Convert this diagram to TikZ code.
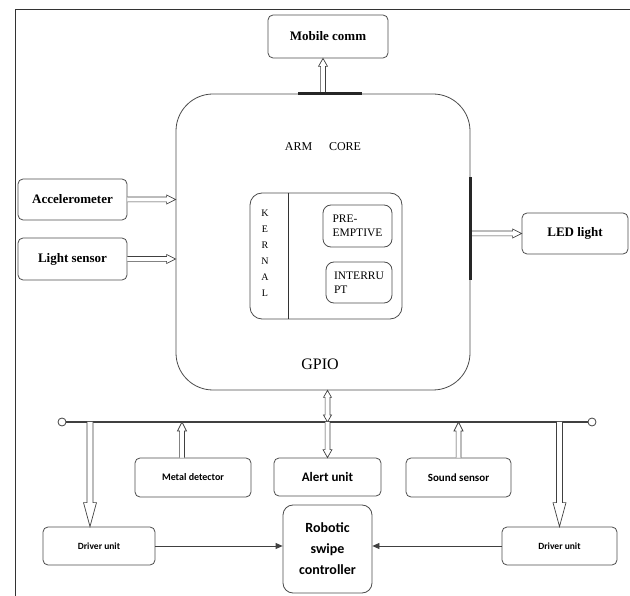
\documentclass[tikz,border=0pt]{standalone}
\usepackage{fontspec}
\setmainfont{Liberation Serif}
\newfontfamily\calfont{Carlito}
\usetikzlibrary{arrows.meta,calc}
\tikzset{
  box/.style={draw=black!70, line width=0.8pt, rounded corners=5pt, align=center, inner sep=1pt},
  hollow/.style={draw=black!75, line width=0.7pt, fill=white, line join=miter},
  sarrow/.style={draw=black!75, line width=0.8pt, -{Triangle[length=7pt,width=6pt]}},
  thick seg/.style={draw=black!85, line width=2.4pt},
  tb/.style={font=\fontsize{13}{15}\selectfont\bfseries},
  cb/.style={font=\calfont\bfseries\fontsize{#1}{#1}\selectfont},
}
\newlength\shaft
\setlength\shaft{2.4pt}
% hollow double-line arrow: from, to, head length, head half width
\newcommand\hollowarr[4]{%
  \coordinate (hA) at (#1); \coordinate (hB) at (#2);
  \coordinate (hH) at ($(hB)!#3!(hA)$);
  \draw[hollow] ($(hA)!\shaft!90:(hB)$) -- ($(hH)!\shaft!-90:(hA)$) -- ($(hH)!#4!-90:(hA)$) -- (hB)
     -- ($(hH)!#4!90:(hA)$) -- ($(hH)!\shaft!90:(hA)$) -- ($(hA)!\shaft!-90:(hB)$);
}
% hollow double-headed arrow
\newcommand\hollowdarr[4]{%
  \coordinate (hA) at (#1); \coordinate (hB) at (#2);
  \coordinate (hH) at ($(hB)!#3!(hA)$);
  \coordinate (hG) at ($(hA)!#3!(hB)$);
  \draw[hollow] (hA) -- ($(hG)!#4!-90:(hB)$) -- ($(hG)!\shaft!-90:(hB)$) -- ($(hH)!\shaft!90:(hA)$)
     -- ($(hH)!#4!90:(hA)$) -- (hB) -- ($(hH)!#4!-90:(hA)$) -- ($(hH)!\shaft!-90:(hA)$)
     -- ($(hG)!\shaft!90:(hB)$) -- ($(hG)!#4!90:(hB)$) -- cycle;
}
\begin{document}
\begin{tikzpicture}[x=1pt,y=-1pt]
\useasboundingbox (0,0) rectangle (630,596);
% frame
\draw[black!80, line width=1pt] (630,10) -- (15,10) -- (15,596);
% main
\node[box, rounded corners=37pt, minimum width=294pt, minimum height=296pt] (main) at (323,242) {};
\node[font=\fontsize{12}{14}\selectfont] (arm) at (323,147) {ARM\hspace{1.4em}CORE};
\node[font=\fontsize{16}{18}\selectfont] (gpio) at (320,364) {GPIO};
% kernel
\node[box, rounded corners=12pt, minimum width=152pt, minimum height=126pt] (kern) at (326,256) {};
\draw[black!80, line width=0.8pt] ($(kern.north west)+(39,0)$) -- ($(kern.south west)+(39,0)$);
\node[align=center, inner sep=0pt, font=\fontsize{10}{16}\selectfont] (kl) at (265,253) {K\\E\\R\\N\\A\\L};
\node[box, rounded corners=8pt, minimum width=69pt, minimum height=42pt, align=left, font=\fontsize{11.5}{14}\selectfont] (pre) at (357.5,226) {PRE-\\EMPTIVE};
\node[box, rounded corners=8pt, minimum width=66pt, minimum height=41pt, align=left, font=\fontsize{11.5}{14}\selectfont] (int) at (359,282.5) {INTERRU\\PT\hspace{2.6em}};
% top
\node[box, tb, minimum width=120pt, minimum height=43pt] (mob) at (328,36.5) {Mobile comm};
\hollowarr{main.north}{main.north |- mob.south}{8pt}{4.5pt}
% left inputs
\node[box, tb, minimum width=109pt, minimum height=41pt] (acc) at (72.5,199.5) {Accelerometer};
\node[box, tb, minimum width=109pt, minimum height=42pt] (light) at (72.5,259) {Light sensor};
\hollowarr{acc.east}{acc.east -| main.west}{9pt}{4.5pt}
\hollowarr{light.east}{light.east -| main.west}{9pt}{4.5pt}
% LED
\node[box, tb, minimum width=106pt, minimum height=41pt] (led) at (575,233.5) {LED light};
\hollowarr{led.west -| main.east}{led.west}{9pt}{4.5pt}
\draw[thick seg] ($(main.north)+(-25,0)$) -- ($(main.north)+(39,0)$);
\draw[thick seg] ($(main.east)+(0,-65)$) -- ($(main.east)+(0,38)$);
% bus
\node[draw=black!75, line width=0.8pt, circle, minimum size=8pt, inner sep=0pt] (bl) at (62,422) {};
\node[draw=black!75, line width=0.8pt, circle, minimum size=8pt, inner sep=0pt] (br) at (592,422) {};
\draw[black!75, line width=1.2pt] (bl.east) -- (br.west);
% bottom boxes
\node[box, cb=10, minimum width=116pt, minimum height=39pt] (metal) at (193,477.5) {Metal detector};
\node[box, cb=13, minimum width=107pt, minimum height=38pt] (alert) at (327.5,477) {Alert unit};
\node[box, cb=11, minimum width=105pt, minimum height=39pt] (sound) at (458.5,477.5) {Sound sensor};
\node[box, cb=9.5, minimum width=112pt, minimum height=38pt] (drvl) at (99,546) {Driver unit};
\node[box, cb=9.5, minimum width=115pt, minimum height=38pt] (drvr) at (559.5,546) {Driver unit};
\node[box, rounded corners=10pt, minimum width=89pt, minimum height=88pt, font=\calfont\bfseries\fontsize{14}{21}\selectfont] (robot) at (327.5,549) {Robotic\\swipe\\controller};
% bus connections
\coordinate (ba) at (alert.north |- bl);
\hollowdarr{main.south -| alert}{ba}{7pt}{4pt}
\hollowarr{ba}{alert.north}{8pt}{4.5pt}
\hollowarr{$(metal.north)+(-11,0)$}{$(metal.north |- bl)+(-11,0)$}{9pt}{4.5pt}
\hollowarr{sound.north}{sound.north |- bl}{9pt}{4.5pt}
\setlength\shaft{3pt}
\hollowarr{$(drvl.north |- bl)+(-9,0)$}{$(drvl.north)+(-9,0)$}{24pt}{6.5pt}
\hollowarr{drvr.north |- br}{drvr.north}{24pt}{6.5pt}
% to robot
\draw[sarrow] (drvl.east) -- (drvl.east -| robot.west);
\draw[sarrow] (drvr.west) -- (drvr.west -| robot.east);
\end{tikzpicture}
\end{document}
